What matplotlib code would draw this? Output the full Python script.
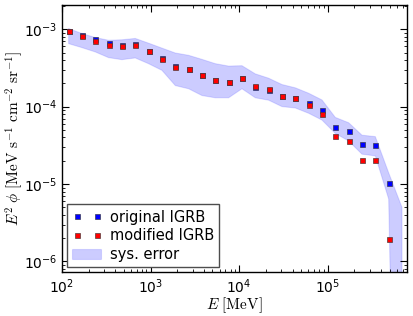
import numpy as np
import matplotlib
matplotlib.use("Agg")
import matplotlib.pyplot as plt

# Energy bin centres [MeV]
energy = [119, 168, 238, 336, 475, 672, 951, 1345, 1902, 2690, 3804, 5380,
          7609, 10761, 15218, 21521, 30436, 43043, 60872, 86086, 121744,
          172172, 243487, 344341, 486970]
# band energies (one extra bin)
band_energy = energy + [688700]

orig = [9.4e-4, 8.3e-4, 7.4e-4, 6.6e-4, 6.3e-4, 6.4e-4, 5.24e-4, 4.2e-4,
        3.34e-4, 3.05e-4, 2.55e-4, 2.24e-4, 2.11e-4, 2.35e-4, 1.78e-4,
        1.66e-4, 1.38e-4, 1.30e-4, 1.12e-4, 9.06e-5, 5.4e-5, 4.87e-5,
        3.31e-5, 3.15e-5, 1.02e-5]
modif = [9.4e-4, 8.1e-4, 7.0e-4, 6.3e-4, 6.07e-4, 6.3e-4, 5.24e-4, 4.16e-4,
         3.24e-4, 3.05e-4, 2.55e-4, 2.24e-4, 2.11e-4, 2.35e-4, 1.86e-4,
         1.71e-4, 1.38e-4, 1.30e-4, 1.06e-4, 8.03e-5, 4.17e-5, 3.62e-5,
         2.05e-5, 2.05e-5, 1.97e-6]

band_hi = [1.02e-3, 8.8e-4, 7.8e-4, 7.2e-4, 7.3e-4, 7.6e-4, 6.6e-4, 5.7e-4,
           4.93e-4, 4.6e-4, 4.08e-4, 3.59e-4, 3.34e-4, 3.38e-4, 2.65e-4,
           2.33e-4, 1.93e-4, 1.75e-4, 1.49e-4, 1.22e-4, 7.26e-5, 6.2e-5,
           4.28e-5, 4.1e-5, 1.4e-5, 5.0e-6]
band_lo = [6.5e-4, 5.78e-4, 5.08e-4, 4.29e-4, 4.04e-4, 4.25e-4, 3.58e-4,
           2.94e-4, 1.87e-4, 1.70e-4, 1.39e-4, 1.30e-4, 1.30e-4, 1.70e-4,
           1.30e-4, 1.21e-4, 1.0e-4, 9.6e-5, 8.2e-5, 6.7e-5, 4.5e-5, 3.6e-5,
           2.43e-5, 2.31e-5, 6.4e-6, 1e-14]

fig = plt.figure(figsize=(4.13, 3.16), dpi=100)
ax = fig.add_axes([0.150, 0.139, 0.835, 0.845])

band = ax.fill_between(band_energy, band_lo, band_hi,
                       facecolor=(0, 0, 1, 0.2), edgecolor=(0, 0, 1, 0.12),
                       linewidth=0.8, label="sys. error", zorder=1)
l1, = ax.plot(energy, orig, ls="none", marker="s", ms=3.6, mfc="#0000ff",
              mec="#3a3a50", mew=0.5, label="original IGRB", zorder=3)
l2, = ax.plot(energy, modif, ls="none", marker="s", ms=3.6, mfc="#ff0000",
              mec="#503a3a", mew=0.5, label="modified IGRB", zorder=4)

ax.set_xscale("log")
ax.set_yscale("log")
ax.set_xlim(100, 7.8e5)
ax.set_ylim(7.3e-7, 2.05e-3)

ax.tick_params(which="both", direction="in", top=True, right=True,
               labelsize=10)
ax.tick_params(which="major", length=5, width=0.8)
ax.tick_params(which="minor", length=2.5, width=0.6)
for s in ax.spines.values():
    s.set_linewidth(1.0)

ax.set_xlabel(r"$E\ [\mathrm{MeV}]$", fontsize=11, math_fontfamily="cm",
              labelpad=0)
ax.set_ylabel(r"$E^2\ \phi\ [\mathrm{MeV\ s^{-1}\ cm^{-2}\ sr^{-1}}]$",
              fontsize=11, math_fontfamily="cm", labelpad=-1)

leg = ax.legend([l1, l2, band], ["original IGRB", "modified IGRB", "sys. error"],
                loc="lower left", numpoints=2, fancybox=False, framealpha=1,
                edgecolor="0.3", fontsize=10.5, handlelength=2.0,
                borderpad=0.35, labelspacing=0.25, handletextpad=0.6,
                borderaxespad=0.35)
leg.get_frame().set_linewidth(1.0)

fig.savefig("out.png", dpi=100)
